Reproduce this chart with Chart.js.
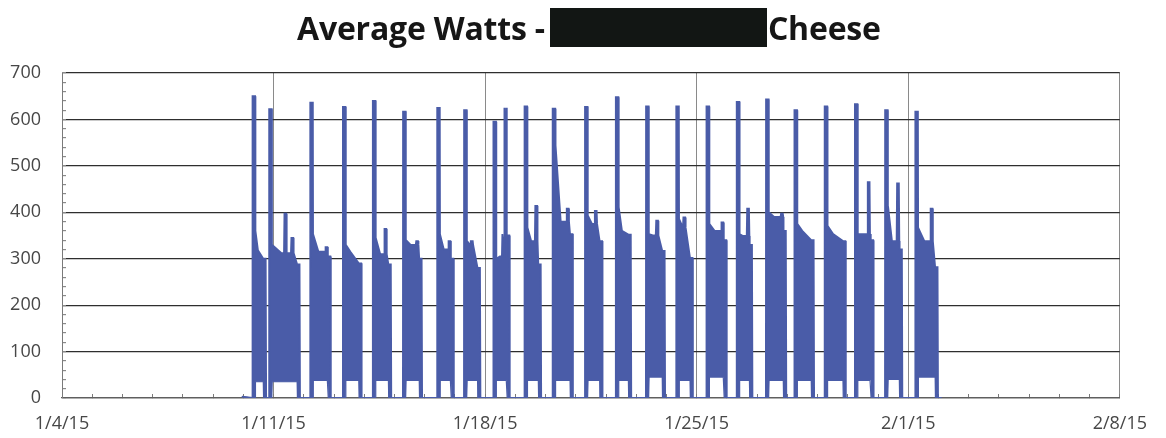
<!DOCTYPE html>
<html><head><meta charset="utf-8">
<script src="https://cdn.jsdelivr.net/npm/chart.js@4.4.1/dist/chart.umd.min.js"></script>
<style>
html,body{margin:0;padding:0;background:#fff;}
#wrap{position:relative;width:1166px;height:438px;overflow:hidden;}
canvas{position:absolute;left:0;top:0;}
#title{position:absolute;left:297px;top:7px;height:40px;display:flex;align-items:center;font-family:"Open Sans",sans-serif;font-weight:700;font-size:32px;color:#161616;white-space:nowrap;letter-spacing:-0.2px;}
#redact{display:inline-block;width:217px;height:39px;background:#121614;margin:0 1px 0 5px;}
</style></head><body>
<div id="wrap"><canvas id="c" width="1166" height="438"></canvas>
<div id="title"><span>Average Watts -</span><span id="redact"></span><span>Cheese</span></div></div>
<script>
// Tick labels (x = days since 1/4/15)
const xTickDays = [0, 7, 14, 21, 28, 35];
const xTickLabels = ['1/4/15', '1/11/15', '1/18/15', '1/25/15', '2/1/15', '2/8/15'];
const yTickValues = [0, 100, 200, 300, 400, 500, 600, 700];

// One entry per run cycle (days since 1/4/15, watts)
const blockStartDay = [6.30, 6.85, 8.21, 9.29, 10.28, 11.28, 12.41, 13.30, 14.27, 15.30, 16.23, 17.30, 18.32, 19.32, 20.32, 21.32, 22.32, 23.29, 24.23, 25.23, 26.23, 27.23, 28.23];
const blockEndDay   = [6.76, 7.88, 8.90, 9.92, 10.90, 11.92, 12.97, 13.85, 14.82, 15.86, 16.91, 17.89, 18.84, 19.96, 20.88, 22.00, 22.85, 23.97, 24.89, 25.94, 26.86, 27.81, 28.99];
const spikeWatts      = [650, 622, 636, 627, 640, 617, 625, 620, 595, 628, 623, 627, 648, 628, 628, 628, 638, 643, 620, 628, 633, 620, 617];
const afterSpikeWatts = [360, 330, 353, 330, 345, 340, 353, 338, 300, 367, 544, 392, 411, 353, 386, 375, 353, 400, 375, 371, 353, 411, 367];
const plateauWatts    = [318, 312, 315, 315, 310, 330, 320, 329, 305, 338, 380, 375, 360, 350, 367, 360, 349, 390, 360, 353, 353, 338, 338];
const endWatts        = [300, 288, 305, 290, 288, 300, 300, 280, 350, 288, 353, 338, 352, 317, 302, 340, 330, 360, 340, 338, 340, 320, 282];
const bumpDay   = [null, 7.39, 8.75, null, 10.70, 11.75, 12.82, 13.56, 14.60, 15.69, 16.73, 17.66, null, 19.69, 20.59, 21.85, 22.70, 23.82, null, null, 26.69, 27.66, 28.77];
const bumpWatts = [null, 397, 325, null, 364, 338, 338, 338, 353, 414, 408, 403, null, 382, 389, 378, 408, 397, null, null, 465, 462, 408];
const bump2Day   = [null, 7.62, null, null, null, null, null, null, 14.67, null, null, null, null, null, null, null, null, null, null, null, null, null, null];
const bump2Watts = [null, 345, null, null, null, null, null, null, 625, null, null, null, null, null, null, null, null, null, null, null, null, null, null];
const floorWatts = [35, 35, 38, 38, 38, 38, 38, 38, 38, 38, 38, 38, 38, 45, 38, 45, 38, 38, 38, 38, 38, 40, 45];
const idleStart = [5.95, 3];
const idleEndDay = 29.1;

const BLUE = '#4a5ca8';

// Build outline tables (upper / lower envelope on a shared x list) from the arrays above
const upperPts = [{x: idleStart[0], y: idleStart[1]}];
const lowerPts = [{x: idleStart[0], y: idleStart[1]}];
for (let i = 0; i < blockStartDay.length; i++) {
  const s = blockStartDay[i], e = blockEndDay[i], L = e - s, p = plateauWatts[i];
  const up = [[s, 0], [s + 0.004, spikeWatts[i]], [s + 0.09, spikeWatts[i]], [s + 0.097, afterSpikeWatts[i]],
              [s + 0.105, afterSpikeWatts[i]], [s + 0.4 * L, p],
              [e - 0.1, endWatts[i]], [e - 0.09, endWatts[i]], [e - 0.02, endWatts[i]], [e - 0.005, 0]];
  [[bumpDay[i], bumpWatts[i]], [bump2Day[i], bump2Watts[i]]].forEach(([d, w]) => {
    if (d === null) return;
    up.push([d - 0.045, p], [d - 0.03, w], [d + 0.03, w], [d + 0.045, p]);
  });
  up.sort((a, b) => a[0] - b[0]);
  up.forEach(([x, y]) => {
    upperPts.push({x, y});
    const inside = x > s + 0.1 && x < e - 0.095;
    lowerPts.push({x, y: inside ? floorWatts[i] : 0});
  });
}
upperPts.push({x: idleEndDay, y: 0});
lowerPts.push({x: idleEndDay, y: 0});

new Chart(document.getElementById('c'), {
  type: 'line',
  data: {
    datasets: [
      {data: upperPts, borderColor: BLUE, backgroundColor: BLUE, borderWidth: 1.8, pointRadius: 0, tension: 0, fill: '+1'},
      {data: lowerPts, borderColor: BLUE, backgroundColor: BLUE, borderWidth: 1.2, pointRadius: 0, tension: 0, fill: false}
    ]
  },
  options: {
    responsive: false,
    animation: false,
    events: [],
    layout: {padding: {top: 73, right: 38, left: 0, bottom: 0}},
    plugins: {legend: {display: false}, tooltip: {enabled: false}, title: {display: false}},
    scales: {
      x: {
        type: 'linear', min: xTickDays[0], max: xTickDays[xTickDays.length - 1],
        afterFit: s => { s.height = 40; },
        ticks: {
          stepSize: 1, autoSkip: false, maxRotation: 0, padding: 19,
          font: {family: '"Open Sans", sans-serif', size: 18}, color: '#474747',
          callback: v => { const i = xTickDays.indexOf(v); return i >= 0 ? xTickLabels[i] : ''; }
        },
        grid: {
          color: c => (c.tick && xTickDays.includes(c.tick.value)) ? '#8a8a8a' : 'rgba(0,0,0,0)',
          tickColor: '#7a7a7a', tickLength: -4, lineWidth: 1
        },
        border: {color: '#5f5f5f', width: 1.2}
      },
      y: {
        min: yTickValues[0], max: yTickValues[yTickValues.length - 1],
        afterFit: s => { s.width = 62; },
        ticks: {
          stepSize: 20, autoSkip: false, padding: 25,
          font: {family: '"Open Sans", sans-serif', size: 18}, color: '#474747',
          callback: v => yTickValues.includes(v) ? String(v) : ''
        },
        grid: {
          color: c => (c.tick && yTickValues.includes(c.tick.value)) ? '#2e2e2e' : 'rgba(0,0,0,0)',
          tickColor: '#8a8a8a', tickLength: -4, lineWidth: 1.2
        },
        border: {color: '#7a7a7a', width: 1}
      }
    }
  }
});
</script>
</body></html>
